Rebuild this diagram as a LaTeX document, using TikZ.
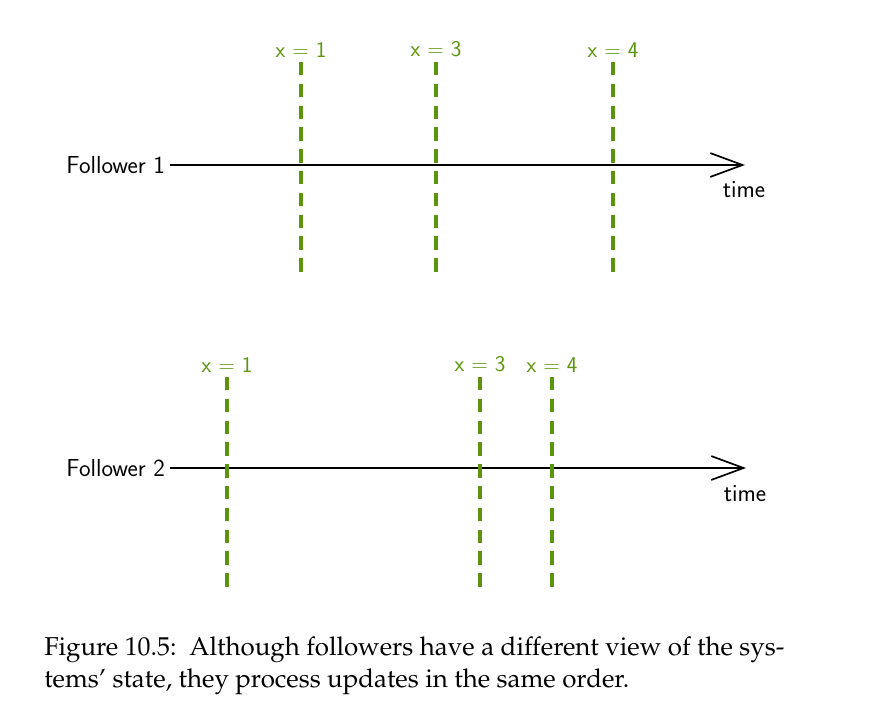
\documentclass[tikz,border=0pt]{standalone}
\usepackage{amsmath}
\usetikzlibrary{arrows.meta}
\definecolor{sketchgreen}{RGB}{92,148,13}
\tikzset{
  hand/.style={font=\sffamily\fontsize{17.5}{20}\selectfont},
  tick/.style={font=\sffamily\fontsize{16}{19}\selectfont,text=sketchgreen,anchor=south},
  update/.style={sketchgreen,line width=2.4pt,dash pattern=on 9.5pt off 6pt},
  timeline/.style={line width=1.3pt,-{Straight Barb[length=23pt,width=17pt,line width=1.2pt]}}
}

\begin{document}
\begin{tikzpicture}[x=0.025cm,y=-0.025cm]
\useasboundingbox (0,0) rectangle (882,706);
% follower 1
\node[hand,anchor=east] (f1) at (170,165){Follower 1};
\coordinate (end1) at (745,165); \node[hand] (time1) at (744,190){time};
\draw[timeline] (f1.east) -- (end1);
\foreach \x/\v in {301/1,436/3,613/4}{
  \node[tick] (up1\v) at (\x,62){x = \v};
  \draw[update] (up1\v.south) -- ++(0,210);
}
% follower 2
\node[hand,anchor=east] (f2) at (170,468){Follower 2};
\coordinate (end2) at (746,468); \node[hand] (time2) at (745,494){time};
\draw[timeline] (f2.east) -- (end2);
\foreach \x/\v in {227/1,480/3,552/4}{
  \node[tick] (up2\v) at (\x,377){x = \v};
  \draw[update] (up2\v.south) -- ++(0,210);
}
% caption
\node[anchor=north west,align=left,inner sep=0pt,
  font=\fontencoding{T1}\fontfamily{ppl}\fontsize{18.4}{23.4}\selectfont] (cap) at (44,636)
  {Figure 10.5:\ \ Although followers have a different view of the sys-\\tems' state, they process updates in the same order.};
\end{tikzpicture}
\end{document}
